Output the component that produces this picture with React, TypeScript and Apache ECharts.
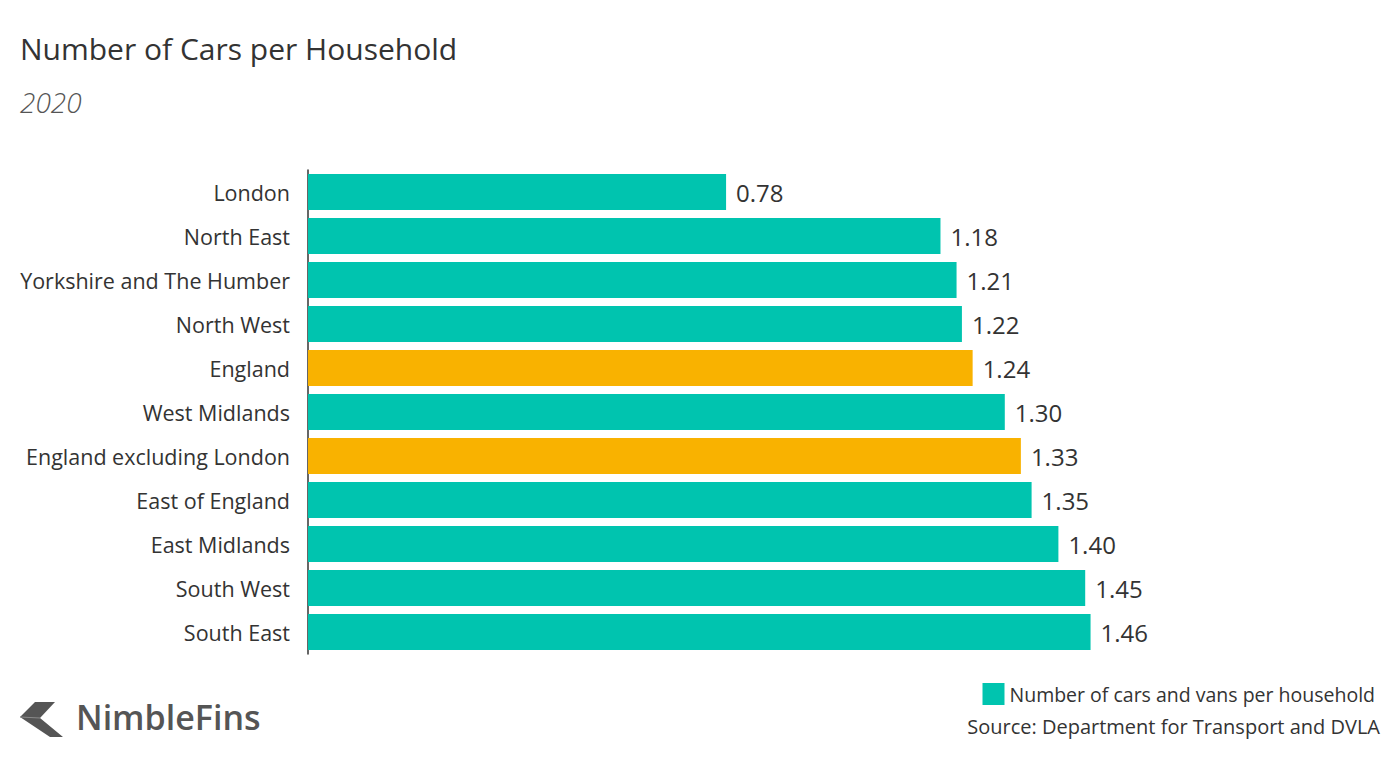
import React, { useEffect, useRef } from "react";
import * as echarts from "echarts";

const categories = [
  "London",
  "North East",
  "Yorkshire and The Humber",
  "North West",
  "England",
  "West Midlands",
  "England excluding London",
  "East of England",
  "East Midlands",
  "South West",
  "South East",
];
const values = [0.78, 1.18, 1.21, 1.22, 1.24, 1.3, 1.33, 1.35, 1.4, 1.45, 1.46];
const highlighted = ["England", "England excluding London"];

const TEAL = "#00C4AF";
const GOLD = "#F9B200";
const FONT = "'Open Sans', 'Noto Sans', sans-serif";

echarts.graphic.registerShape(
  "nfLogo",
  echarts.graphic.extendPath("M0 15 L15 0 L35 0 L20 16 L43 35 L30 35 Z", {}) as any
);

export default function App() {
  const ref = useRef<HTMLDivElement>(null);
  useEffect(() => {
    if (!ref.current) return;
    const chart = echarts.init(ref.current, undefined, { renderer: "svg" });
    chart.setOption({
      animation: false,
      backgroundColor: "#ffffff",
      title: [
        {
          text: "Number of Cars per Household",
          left: 15,
          top: 28,
          textStyle: { fontFamily: FONT, fontSize: 30, fontWeight: 500, color: "#333333" },
        },
        {
          text: "2020",
          left: 15,
          top: 83,
          textStyle: { fontFamily: FONT, fontSize: 28, fontStyle: "italic", fontWeight: 300, color: "#555555" },
        },
      ],
      legend: {
        right: 20,
        top: 678,
        itemWidth: 22,
        itemHeight: 22,
        itemGap: 6,
        icon: "rect",
        textStyle: { fontFamily: FONT, fontSize: 19.5, color: "#333333" },
        data: ["Number of cars and vans per household"],
      },
      grid: { left: 308, right: 20, top: 170, height: 484, containLabel: false },
      xAxis: {
        type: "value",
        min: 0,
        max: 2,
        show: false,
      },
      yAxis: {
        type: "category",
        inverse: true,
        data: categories,
        axisLine: { show: true, lineStyle: { color: "#333333", width: 1.5 } },
        axisTick: { show: false },
        axisLabel: { fontFamily: FONT, fontSize: 21.5, color: "#333333", margin: 18 },
      },
      series: [
        {
          name: "Number of cars and vans per household",
          type: "bar",
          barCategoryGap: "18%",
          itemStyle: { color: TEAL },
          data: values.map((v, i) => ({
            value: v,
            itemStyle: { color: highlighted.includes(categories[i]) ? GOLD : TEAL },
          })),
          label: {
            show: true,
            position: "right",
            distance: 10,
            fontFamily: FONT,
            fontSize: 24,
            color: "#333333",
            formatter: (p: any) => Number(p.value).toFixed(2),
          },
        },
      ],
      graphic: [
        {
          type: "nfLogo",
          x: 20,
          y: 702,
          scaleX: 1,
          scaleY: 1,
          style: { fill: "#555555" },
        },
        {
          type: "line",
          shape: { x1: 20, y1: 717, x2: 40, y2: 718 },
          style: { stroke: "#8a8a8a", lineWidth: 1 },
        },
        {
          type: "text",
          left: 76,
          top: 700,
          style: {
            text: "NimbleFins",
            fontFamily: FONT,
            fontSize: 34,
            fontWeight: 600,
            fill: "#555555",
          },
        },
        {
          type: "text",
          right: 20,
          top: 716,
          style: {
            text: "Source: Department for Transport and DVLA",
            fontFamily: FONT,
            fontSize: 20,
            fill: "#333333",
          },
        },
      ],
    });
    return () => chart.dispose();
  }, []);
  return (
    <div
      ref={ref}
      style={{ position: "fixed", left: 0, top: 0, width: 1400, height: 768 }}
    />
  );
}
